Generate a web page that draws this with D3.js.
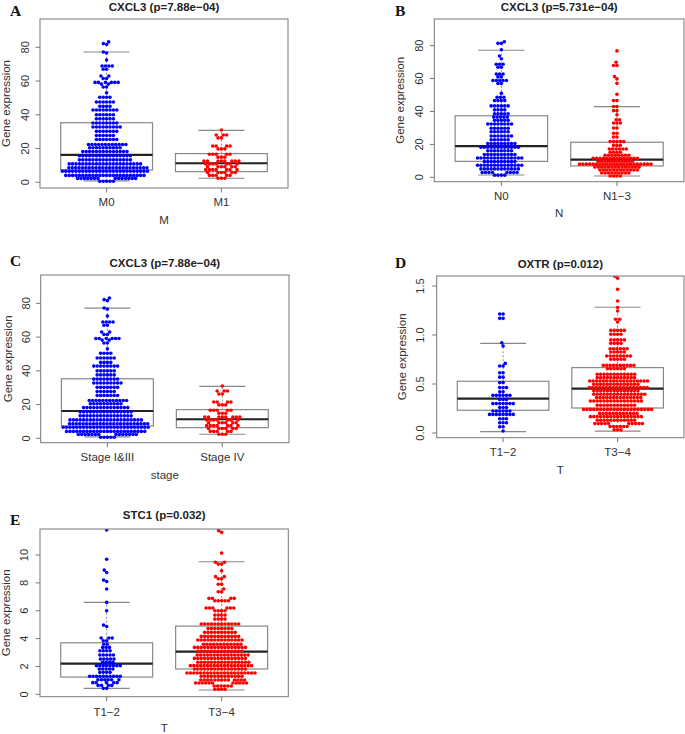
<!DOCTYPE html>
<html>
<head>
<meta charset="utf-8">
<script src="https://cdn.jsdelivr.net/npm/d3@7"></script>
<style>
  html, body { margin: 0; padding: 0; background: #fff; }
  svg { display: block; }
</style>
</head>
<body>
<svg id="chart" width="685" height="734"></svg>
<script>
// ---------------- DATA ([value, number of points]) ----------------
const groupColors = ["#0000ff", "#ff0000"];

// Panel A / C : CXCL3 by M and by stage
const cxcl3_M_categories = ["M0", "M1"];
const cxcl3_stage_categories = ["Stage I&III", "Stage IV"];
const cxcl3_M0 = [
  [83.2,1],[82.2,1],[81.6,1],[77.2,1],[76.6,1],[72.5,1],[68.9,4],[67,2],[63,2],[61.5,2],
  [59.2,6],[58.2,2],[56.5,2],[53,1],[50.4,4],[47.6,6],[45,4],[42.8,8],[40,6],[37.6,6],
  [35.1,8],[32.8,9],[30.2,7],[27.7,6],[25.4,7],[22.4,12],[20.5,10],[18.2,14],[15.7,16],
  [13.3,16],[10.9,22],[8.6,24],[6.6,26],[4.1,24],[2.3,14],[0.6,5]
];
const cxcl3_M1 = [
  [31,1],[28,3],[26.3,2],[21.5,4],[19.8,3],[16.6,5],[14.9,3],[12.6,8],[10.9,7],[9.2,6],
  [7.5,7],[5.8,6],[4.1,5],[2.4,3]
];
// box stats: [lower whisker, Q1, median, Q3, upper whisker]
const cxcl3_M_box = [[0.8, 7.3, 16.2, 35.3, 77.2], [2.4, 6.3, 11.3, 17, 30.8]];

// Panel B : CXCL3 by N
const cxcl3_N_categories = ["N0", "N1\u22123"];
const cxcl3_N0 = [
  [82.4,1],[81.4,2],[77.5,1],[73.7,1],[72,1],[68.7,3],[66.9,2],[62.8,3],[61,2],[58.8,5],
  [57,2],[51,1],[48.6,3],[46.6,4],[43.4,6],[41,4],[38.6,5],[36.6,5],[34.6,5],[32.4,8],
  [29.8,6],[27.7,6],[25.1,7],[22.8,6],[20.5,9],[18.3,12],[16.1,8],[13.9,10],[11.7,14],
  [9.5,10],[7.3,14],[5.1,12],[2.9,8],[1.3,4]
];
const cxcl3_N13 = [
  [76.8,1],[69.9,1],[67.9,2],[61.2,1],[59.8,1],[57.1,1],[50.5,1],[46.6,2],[43,2],[40.5,2],
  [38,1],[35,2],[33,3],[30,2],[26.8,2],[24.5,2],[21.7,5],[19.4,3],[17.2,6],[15.2,4],
  [13.4,8],[11.6,14],[9.8,11],[8,22],[6.2,14],[4.4,12],[2.6,9],[0.8,4]
];
const cxcl3_N_box = [[1.4, 9.7, 19, 37.4, 77.2], [0.8, 6.9, 10.7, 21.3, 42.9]];

// Panel D : OXTR by T
const oxtr_T_categories = ["T1\u22122", "T3\u22124"];
const oxtr_T12 = [
  [1.215,2],[1.17,2],[0.92,1],[0.888,1],[0.71,1],[0.683,2],[0.615,2],[0.57,2],[0.514,2],
  [0.463,3],[0.42,2],[0.384,6],[0.343,3],[0.3,7],[0.26,3],[0.225,6],[0.19,8],[0.146,3],
  [0.105,3],[0.064,2],[0.02,1]
];
const oxtr_T34 = [
  [1.6,1],[1.58,1],[1.466,1],[1.347,1],[1.28,1],[1.245,1],[1.16,2],[1.133,1],[1.047,5],
  [1.007,4],[0.95,5],[0.915,4],[0.86,6],[0.826,5],[0.786,8],[0.752,5],[0.69,10],[0.656,6],
  [0.6,12],[0.565,12],[0.531,18],[0.497,14],[0.463,18],[0.43,14],[0.395,16],[0.361,14],
  [0.327,16],[0.283,12],[0.241,21],[0.2,12],[0.167,16],[0.13,12],[0.096,10],[0.066,6],[0.032,3]
];
const oxtr_T_box = [[0.013, 0.232, 0.35, 0.528, 0.915], [0.02, 0.255, 0.452, 0.667, 1.283]];

// Panel E : STC1 by T
const stc1_T_categories = ["T1\u22122", "T3\u22124"];
const stc1_T12 = [
  [11.8,1],[9.7,1],[8.92,1],[8.75,1],[8.2,1],[8.1,1],[7.56,1],[6.6,1],[6.0,1],[4.97,1],
  [4.87,1],[4.04,3],[3.85,2],[3.6,2],[3.37,3],[3.13,4],[2.82,5],[2.53,5],[2.3,4],[2.06,8],
  [1.82,5],[1.58,4],[1.29,10],[1.05,6],[0.84,5],[0.64,4],[0.43,2]
];
const stc1_T34 = [
  [11.75,1],[11.63,1],[10.14,1],[9.48,2],[9.35,2],[8.87,1],[8.45,2],[8.3,2],[7.9,2],[7.56,1],
  [7.37,2],[6.89,4],[6.72,5],[6.2,6],[6.0,4],[5.69,4],[5.4,4],[5.05,12],[4.73,8],[4.45,10],
  [4.16,12],[3.9,14],[3.6,12],[3.37,16],[3.09,14],[2.82,16],[2.58,16],[2.3,16],[2.06,19],
  [1.82,16],[1.53,21],[1.29,13],[1.03,13],[0.81,11],[0.6,6],[0.36,4]
];
const stc1_T_box = [[0.43, 1.24, 2.2, 3.7, 6.6], [0.31, 1.82, 3.06, 4.9, 9.52]];

// tick values / labels
const ticks_cxcl3 = [0, 20, 40, 60, 80];
const ticks_oxtr = [0, 0.5, 1, 1.5];
const tickLabels_oxtr = ["0.0", "0.5", "1.0", "1.5"];
const ticks_stc1 = [0, 2, 4, 6, 8, 10];

// ---------------- LAYOUT ----------------
const panels = [
  { letter: "A", title: "CXCL3 (p=7.88e\u221204)", xTitle: "M", cats: cxcl3_M_categories,
    groups: [cxcl3_M0, cxcl3_M1], box: cxcl3_M_box, ticks: ticks_cxcl3, tickLabels: null,
    frame: [40, 288, 19, 188], yDom: [-3.38, 96.77],
    letterPos: [10, 16], titleY: 11, tickLabY: 206, xTitleY: 224, yLabX: 25.5, yTitleX: 6 },
  { letter: "B", title: "CXCL3 (p=5.731e\u221204)", xTitle: "N", cats: cxcl3_N_categories,
    groups: [cxcl3_N0, cxcl3_N13], box: cxcl3_N_box, ticks: ticks_cxcl3, tickLabels: null,
    frame: [434.3, 684, 19, 181.7], yDom: [-2.67, 96.2],
    letterPos: [395, 16], titleY: 11, tickLabY: 200, xTitleY: 217, yLabX: 419.5, yTitleX: 400 },
  { letter: "C", title: "CXCL3 (p=7.88e\u221204)", xTitle: "stage", cats: cxcl3_stage_categories,
    groups: [cxcl3_M0, cxcl3_M1], box: cxcl3_M_box, ticks: ticks_cxcl3, tickLabels: null,
    frame: [40.7, 289, 275, 442.7], yDom: [-2.6, 96.8],
    letterPos: [10, 266], titleY: 267, tickLabY: 460.7, xTitleY: 479, yLabX: 26, yTitleX: 7.5 },
  { letter: "D", title: "OXTR (p=0.012)", xTitle: "T", cats: oxtr_T_categories,
    groups: [oxtr_T12, oxtr_T34], box: oxtr_T_box, ticks: ticks_oxtr, tickLabels: tickLabels_oxtr,
    frame: [436.7, 684, 276, 437.7], yDom: [-0.048, 1.602],
    letterPos: [395, 268], titleY: 268, tickLabY: 455.7, xTitleY: 474, yLabX: 419.7, yTitleX: 402 },
  { letter: "E", title: "STC1 (p=0.032)", xTitle: "T", cats: stc1_T_categories,
    groups: [stc1_T12, stc1_T34], box: stc1_T_box, ticks: ticks_stc1, tickLabels: null,
    frame: [40, 288.3, 529, 696.7], yDom: [-0.17, 11.87],
    letterPos: [10, 525], titleY: 519, tickLabY: 715.7, xTitleY: 732, yLabX: 24.5, yTitleX: 6 }
];

const svg = d3.select("#chart");
const FONT = "'Liberation Sans', Arial, Helvetica, sans-serif";
const DOT_R = 1.8, DOT_D = 3.4;

function swarm(values, y) {
  const pts = values.map(v => ({ v, y: y(v), x: 0 })).sort((a, b) => b.y - a.y);
  const placed = [];
  for (const p of pts) {
    const near = placed.filter(q => Math.abs(q.y - p.y) < DOT_D);
    const cands = [0];
    for (const q of near) {
      const dx = Math.sqrt(DOT_D * DOT_D - (q.y - p.y) ** 2);
      cands.push(q.x + dx, q.x - dx);
    }
    cands.sort((a, b) => Math.abs(a) - Math.abs(b) || a - b);
    for (const c of cands) {
      if (near.every(q => (q.x - c) ** 2 + (q.y - p.y) ** 2 >= DOT_D * DOT_D - 1e-6)) { p.x = c; break; }
    }
    placed.push(p);
  }
  return placed;
}

panels.forEach((P, pi) => {
  const [x0, x1, y0, y1] = P.frame;
  const x = d3.scaleLinear().domain([0.42, 2.58]).range([x0, x1]);
  const y = d3.scaleLinear().domain(P.yDom).range([y1, y0]);
  const g = svg.append("g");

  const clipId = "clip" + pi;
  svg.append("clipPath").attr("id", clipId)
    .append("rect").attr("x", x0).attr("y", y0).attr("width", x1 - x0).attr("height", y1 - y0);

  // boxes
  P.box.forEach((b, i) => {
    const cx = x(i + 1), hw = x(1.4) - x(1), cw = x(1.2) - x(1);
    const bg = g.append("g").attr("clip-path", `url(#${clipId})`);
    bg.append("line").attr("x1", cx).attr("x2", cx).attr("y1", y(b[3])).attr("y2", y(b[4]))
      .attr("stroke", "#888").attr("stroke-dasharray", "2,2");
    bg.append("line").attr("x1", cx).attr("x2", cx).attr("y1", y(b[0])).attr("y2", y(b[1]))
      .attr("stroke", "#888").attr("stroke-dasharray", "2,2");
    [b[0], b[4]].forEach(v => bg.append("line").attr("x1", cx - cw).attr("x2", cx + cw)
      .attr("y1", y(v)).attr("y2", y(v)).attr("stroke", "#888").attr("stroke-width", 1.2));
    bg.append("rect").attr("x", cx - hw).attr("width", 2 * hw).attr("y", y(b[3]))
      .attr("height", y(b[1]) - y(b[3])).attr("fill", "none").attr("stroke", "#888").attr("stroke-width", 1.2);
    bg.append("line").attr("x1", cx - hw).attr("x2", cx + hw).attr("y1", y(b[2])).attr("y2", y(b[2]))
      .attr("stroke", "#222").attr("stroke-width", 2.2);
  });

  // points
  P.groups.forEach((rows, i) => {
    const vals = rows.flatMap(([v, n]) => Array.from({ length: n }, () => v));
    const pts = swarm(vals, y);
    g.append("g").attr("clip-path", `url(#${clipId})`).selectAll("circle").data(pts).join("circle")
      .attr("cx", d => x(i + 1) + d.x).attr("cy", d => d.y).attr("r", DOT_R)
      .attr("fill", groupColors[i]);
  });

  // frame
  g.append("rect").attr("x", x0).attr("y", y0).attr("width", x1 - x0).attr("height", y1 - y0)
    .attr("fill", "none").attr("stroke", "#777").attr("stroke-width", 1);

  // y axis ticks
  P.ticks.forEach((t, k) => {
    g.append("line").attr("x1", x0 - 4.5).attr("x2", x0).attr("y1", y(t)).attr("y2", y(t))
      .attr("stroke", "#777");
    g.append("text").attr("transform", `translate(${P.yLabX},${y(t)}) rotate(-90)`)
      .attr("text-anchor", "middle").attr("dy", "0.35em")
      .attr("font-family", FONT).attr("font-size", 11).attr("fill", "#333")
      .text(P.tickLabels ? P.tickLabels[k] : d3.format("d")(t));
  });
  // x axis ticks
  P.cats.forEach((c, i) => {
    g.append("line").attr("x1", x(i + 1)).attr("x2", x(i + 1)).attr("y1", y1).attr("y2", y1 + 4.5)
      .attr("stroke", "#777");
    g.append("text").attr("x", x(i + 1)).attr("y", P.tickLabY).attr("text-anchor", "middle")
      .attr("font-family", FONT).attr("font-size", 11.5).attr("fill", "#333").text(c);
  });
  // axis titles
  g.append("text").attr("x", (x0 + x1) / 2).attr("y", P.xTitleY).attr("text-anchor", "middle")
    .attr("font-family", FONT).attr("font-size", 11.5).attr("fill", "#333").text(P.xTitle);
  g.append("text").attr("transform", `translate(${P.yTitleX},${(y0 + y1) / 2}) rotate(-90)`)
    .attr("text-anchor", "middle").attr("dy", "0.35em")
    .attr("font-family", FONT).attr("font-size", 11.5).attr("fill", "#333").text("Gene expression");
  // title
  g.append("text").attr("x", (x0 + x1) / 2).attr("y", P.titleY).attr("text-anchor", "middle")
    .attr("font-family", FONT).attr("font-size", 11.5).attr("font-weight", "bold").attr("fill", "#222")
    .text(P.title);
  // panel letter
  g.append("text").attr("x", P.letterPos[0]).attr("y", P.letterPos[1])
    .attr("font-family", "'Liberation Serif', 'DejaVu Serif', serif").attr("font-size", 15.5)
    .attr("font-weight", "bold").attr("fill", "#111").text(P.letter);
});
</script>
</body>
</html>
